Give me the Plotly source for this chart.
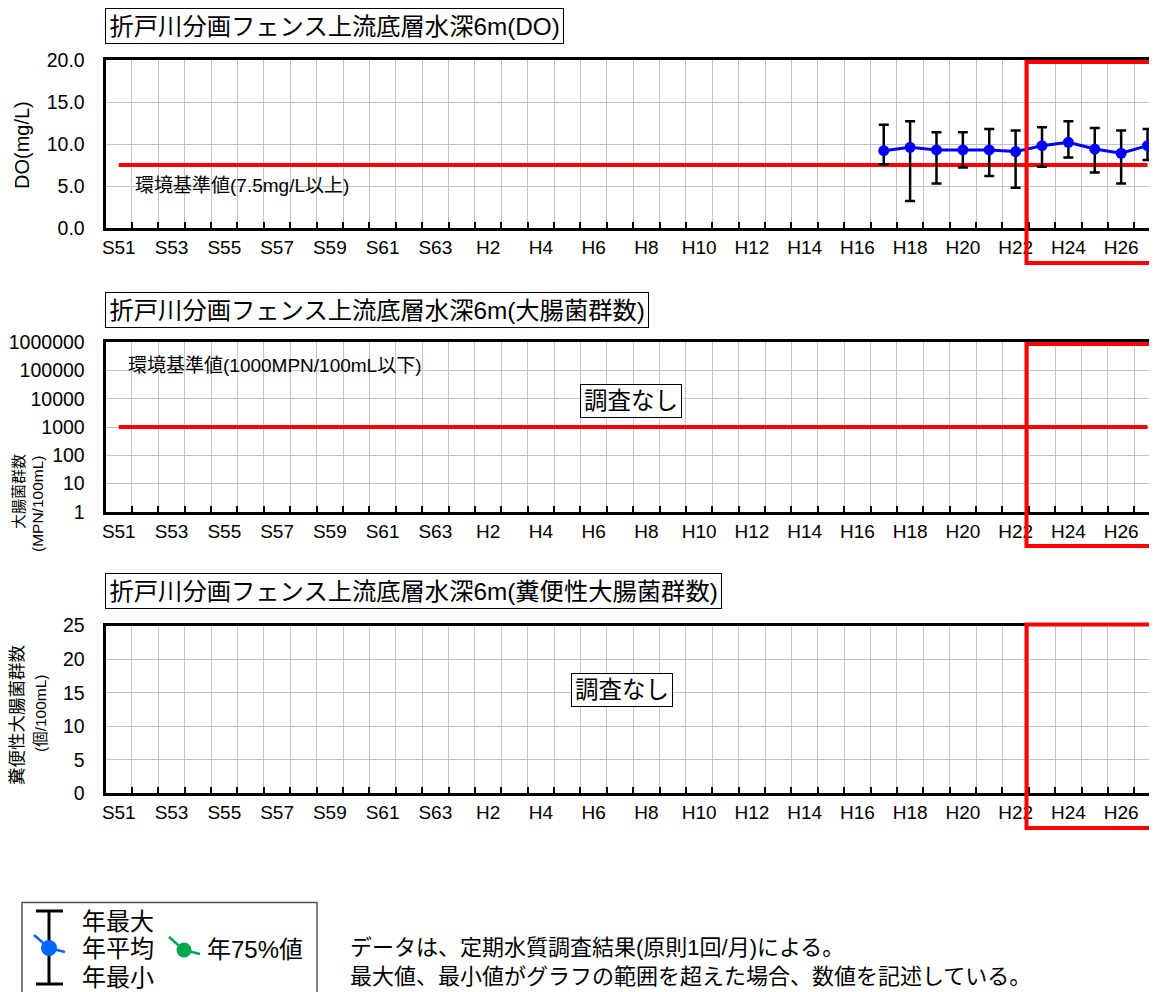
import plotly.graph_objects as go

W, H = 1157, 992
OFF = 8   # page body margin the figure sits in
FONT = 'Liberation Sans, "Noto Sans CJK JP", sans-serif'

# categories: fiscal years S51 (1976) .. H27 (2015)
years = ['S51', 'S52', 'S53', 'S54', 'S55', 'S56', 'S57', 'S58', 'S59', 'S60',
         'S61', 'S62', 'S63', 'H1', 'H2', 'H3', 'H4', 'H5', 'H6', 'H7',
         'H8', 'H9', 'H10', 'H11', 'H12', 'H13', 'H14', 'H15', 'H16', 'H17',
         'H18', 'H19', 'H20', 'H21', 'H22', 'H23', 'H24', 'H25', 'H26', 'H27']
tick_labels = ['S51', 'S53', 'S55', 'S57', 'S59', 'S61', 'S63', 'H2', 'H4', 'H6',
               'H8', 'H10', 'H12', 'H14', 'H16', 'H18', 'H20', 'H22', 'H24', 'H26']

# DO (mg/L)
do_years = ['H17', 'H18', 'H19', 'H20', 'H21', 'H22', 'H23', 'H24', 'H25', 'H26', 'H27']
do_mean = [9.2, 9.6, 9.3, 9.3, 9.3, 9.1, 9.8, 10.2, 9.4, 8.9, 9.8]
do_max = [12.3, 12.7, 11.4, 11.4, 11.8, 11.6, 12.0, 12.7, 11.9, 11.6, 11.8]
do_min = [7.6, 3.2, 5.3, 7.2, 6.2, 4.8, 7.3, 8.4, 6.6, 5.3, 8.1]

do_std = 7.5          # 環境基準値 mg/L
coli_std = 1000       # 環境基準値 MPN/100mL

do_ticks = [0, 5, 10, 15, 20]
coli_ticks = [1, 10, 100, 1000, 10000, 100000, 1000000]
fecal_ticks = [0, 5, 10, 15, 20, 25]


# page pixel -> paper coords
def px(x):
    return (x - OFF) / W


def py(y):
    return 1 - (y - OFF) / H


xi = lambda labs: [years.index(l) for l in labs]
line_x = [xi(['S51'])[0], xi(['H27'])[0]]

fig = go.Figure()

# top chart: DO
fig.add_trace(go.Scatter(x=line_x, y=[do_std, do_std], mode='lines',
                         line=dict(color='#ff0000', width=4), xaxis='x', yaxis='y'))
fig.add_trace(go.Scatter(
    x=xi(do_years), y=do_mean, mode='lines+markers', cliponaxis=False,
    line=dict(color='#0000ff', width=3), marker=dict(color='#0000ff', size=11),
    error_y=dict(type='data', symmetric=False,
                 array=[a - m for a, m in zip(do_max, do_mean)],
                 arrayminus=[m - b for m, b in zip(do_mean, do_min)],
                 color='black', thickness=2.5, width=5),
    xaxis='x', yaxis='y'))

# middle chart: coliform (log)
fig.add_trace(go.Scatter(x=line_x, y=[coli_std, coli_std], mode='lines',
                         line=dict(color='#ff0000', width=4), xaxis='x2', yaxis='y2'))
# bottom chart: fecal coliform (no data)
fig.add_trace(go.Scatter(x=[None], y=[None], mode='markers', xaxis='x3', yaxis='y3'))

xcommon = dict(
    range=[-0.5, 39.5], tickmode='array', tickvals=xi(tick_labels), ticktext=tick_labels,
    ticks='', showgrid=False, zeroline=False, showline=True, linecolor='black',
    linewidth=3, mirror=True, ticklabelstandoff=0, automargin=False,
    tickfont=dict(size=19, color='black', family=FONT),
    minor=dict(tickmode='array', tickvals=[i + 0.5 for i in range(len(years))],
               showgrid=True, gridcolor='#c4c4c4', gridwidth=1,
               ticks='inside', ticklen=6, tickcolor='black', tickwidth=1.5),
    domain=[px(105.6), px(1160.7)],
)
ycommon = dict(showgrid=True, gridcolor='#c4c4c4', gridwidth=1, zeroline=False,
               showline=True, linecolor='black', linewidth=3, mirror=False,
               ticks='', ticklabelstandoff=14, automargin=False,
               tickfont=dict(size=19.5, color='black', family=FONT))

fig.update_layout(
    width=W, height=H, showlegend=False,
    margin=dict(l=0, r=0, t=0, b=0, pad=0, autoexpand=False),
    paper_bgcolor='white', plot_bgcolor='white',
    font=dict(family=FONT, color='black'),
    xaxis=dict(xcommon, anchor='y'),
    yaxis=dict(ycommon, anchor='x', domain=[py(228), py(60)], range=[0, 20],
               tickmode='array', tickvals=do_ticks,
               ticktext=['%.1f' % v for v in do_ticks]),
    xaxis2=dict(xcommon, anchor='y2'),
    yaxis2=dict(ycommon, anchor='x2', domain=[py(511.7), py(342.3)], type='log',
                range=[0, 6], tickmode='array', tickvals=coli_ticks,
                ticktext=[str(v) for v in coli_ticks]),
    xaxis3=dict(xcommon, anchor='y3'),
    yaxis3=dict(ycommon, anchor='x3', domain=[py(793.3), py(625.6)], range=[0, 25],
                tickmode='array', tickvals=fecal_ticks,
                ticktext=[str(v) for v in fecal_ticks]),
)

anns = []


def box_title(text, ytop):
    anns.append(dict(text=text, x=px(105), y=py(ytop), xref='paper', yref='paper',
                     xanchor='left', yanchor='top', showarrow=False,
                     font=dict(size=24.3, color='black', family=FONT),
                     bordercolor='black', borderwidth=1, borderpad=3.5, bgcolor='white'))


box_title('折戸川分画フェンス上流底層水深6m(DO)', 8)
box_title('折戸川分画フェンス上流底層水深6m(大腸菌群数)', 292)
box_title('折戸川分画フェンス上流底層水深6m(糞便性大腸菌群数)', 573)


def text_at(text, x, y, size, anchor='left', angle=0, **kw):
    anns.append(dict(text=text, x=px(x), y=py(y), xref='paper', yref='paper',
                     xanchor=anchor, yanchor='middle', showarrow=False, textangle=angle,
                     font=dict(size=size, color='black', family=FONT), **kw))


text_at('環境基準値(7.5mg/L以上)', 133, 185, 19)
text_at('環境基準値(1000MPN/100mL以下)', 126, 365, 19)
text_at('調査なし', 631, 401, 23.5, anchor='center',
        bordercolor='black', borderwidth=1, borderpad=3, bgcolor='white')
text_at('調査なし', 622, 690, 23.5, anchor='center',
        bordercolor='black', borderwidth=1, borderpad=3, bgcolor='white')

# y axis titles
text_at('DO(mg/L)', 22, 145, 20, anchor='center', angle=-90)
text_at('大腸菌群数', 18, 492, 15, anchor='center', angle=-90)
text_at('(MPN/100mL)', 37, 504, 15.5, anchor='center', angle=-90)
text_at('糞便性大腸菌群数', 17, 715, 17.5, anchor='center', angle=-90)
text_at('(個/100mL)', 40, 713, 15.5, anchor='center', angle=-90)

# legend text and notes
text_at('年最大', 80, 921, 24)
text_at('年平均', 80, 948, 24)
text_at('年最小', 80, 977, 24)
text_at('年75%値', 205, 949, 24)
text_at('データは、定期水質調査結果(原則1回/月)による。', 348, 947, 22)
text_at('最大値、最小値がグラフの範囲を超えた場合、数値を記述している。', 348, 976, 22)

fig.update_layout(annotations=anns)

shapes = []
# red boxes marking recent years
for top, bot in [(62, 263), (344, 546), (624.5, 828)]:
    shapes.append(dict(type='rect', xref='paper', yref='paper',
                       x0=px(1026.5), x1=px(1200), y0=py(bot), y1=py(top),
                       line=dict(color='#ff0000', width=4), layer='above'))

# legend frame
shapes.append(dict(type='rect', xref='paper', yref='paper', x0=px(22), x1=px(317),
                   y0=py(1010), y1=py(902.5), line=dict(color='#555555', width=1.5)))
# legend error-bar glyph
lk = dict(type='line', xref='paper', yref='paper', line=dict(color='black', width=3))
shapes.append(dict(lk, x0=px(49), x1=px(49), y0=py(984), y1=py(911)))
shapes.append(dict(lk, x0=px(36), x1=px(63), y0=py(911), y1=py(911)))
shapes.append(dict(lk, x0=px(36), x1=px(63), y0=py(984), y1=py(984)))


def glyph(cx, cy, color, r):
    shapes.append(dict(type='path', xref='paper', yref='paper',
                       path='M %f %f L %f %f L %f %f' % (px(cx - 15), py(cy - 13), px(cx), py(cy),
                                                         px(cx + 16), py(cy + 4)),
                       line=dict(color=color, width=2.5)))
    shapes.append(dict(type='circle', xref='paper', yref='paper', x0=px(cx - r), x1=px(cx + r),
                       y0=py(cy + r), y1=py(cy - r), fillcolor=color, line=dict(width=0)))


glyph(49, 948, '#0066ff', 8)
glyph(184, 950, '#00a84f', 7.5)

fig.update_layout(shapes=shapes)

fig.write_html("out.html")
